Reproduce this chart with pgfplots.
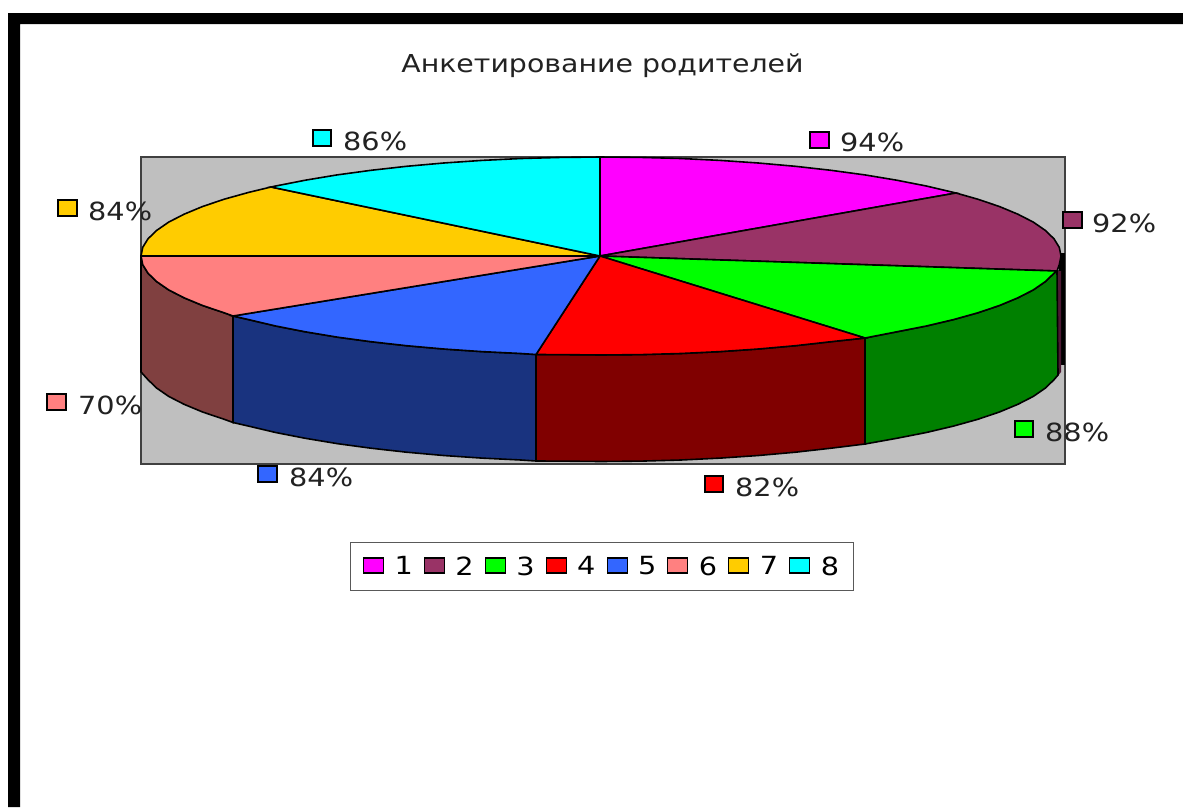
\documentclass[border=0pt]{standalone}
\usepackage{pgfplots}
\usepackage{fontspec}
\pgfplotsset{compat=1.18}
\setmainfont[FakeStretch=1.15]{DejaVu Sans}
\definecolor{c1}{HTML}{FF00FF}
\definecolor{c2}{HTML}{993366}
\definecolor{c3}{HTML}{00FF00}
\definecolor{c4}{HTML}{FF0000}
\definecolor{c5}{HTML}{3366FF}
\definecolor{c6}{HTML}{FF8080}
\definecolor{c7}{HTML}{FFCC00}
\definecolor{c8}{HTML}{00FFFF}
\definecolor{w2}{HTML}{4C1933}
\definecolor{w3}{HTML}{008000}
\definecolor{w4}{HTML}{800000}
\definecolor{w5}{HTML}{19337F}
\definecolor{w6}{HTML}{804040}
\definecolor{txt}{HTML}{222222}
\tikzset{lab/.style={anchor=west, inner sep=0pt, text=txt, font=\fontsize{25}{29}\selectfont}}
\begin{document}
\begin{tikzpicture}
\begin{axis}[
  scale only axis, width=1183pt, height=807pt,
  xmin=0, xmax=1183, ymin=0, ymax=807, y dir=reverse,
  hide axis, clip=true,
  every axis legend/.append style={font=\fontsize{25}{29}\selectfont},
  legend style={at={(axis cs:602,566.5)}, anchor=center, draw=black!65, line width=1pt,
    legend columns=8, inner xsep=12.5pt, inner ysep=12pt,
    /tikz/every even column/.append style={column sep=9pt},
    /tikz/every odd column/.append style={column sep=8.5pt}},
  legend cell align=left,
  legend image code/.code={\draw[#1,line width=1.1pt] (0pt,-6.5pt) rectangle (20pt,8.5pt);},
]
% page and frame
\addplot[fill=white, draw=none, forget plot] coordinates {(0,0)(1183,0)(1183,807)(0,807)} --cycle;
\addplot[fill=black, draw=none, forget plot] coordinates {(8,13)(1183,13)(1183,24)(20,24)(20,807)(8,807)} --cycle;
% plot wall
\addplot[fill=black!25, draw=black!75, line width=1.2pt, forget plot] coordinates {(141,157)(1065,157)(1065,464)(141,464)} --cycle;
% back strip at the right
\addplot[fill=black, draw=none, forget plot] coordinates {(1059,253)(1065,253)(1065,365)(1059,365)} --cycle;
\addplot[fill=w2, draw=none, forget plot] coordinates {(1058,271)(1061,271)(1061,372)(1058,376)} --cycle;
% side walls
\addplot[fill=w3, draw=black, line width=1.6pt, forget plot] coordinates {(1057,271)(1054,273.2)(1045.3,281.6)(1033.3,289.9)(1017.9,297.8)(999.4,305.5)(977.8,312.8)(953.4,319.6)(926.3,326)(896.7,331.8)(865,338)(865,444)(896.7,438.3)(926.3,432.5)(953.4,426.1)(977.8,419.3)(999.4,412)(1017.9,404.3)(1033.3,396.4)(1045.3,388.1)(1054,379.7)(1058,375)} --cycle;
\addplot[fill=w4, draw=black, line width=1.6pt, forget plot] coordinates {(865,338)(831,341.7)(795.4,345.7)(758.3,349)(720.1,351.6)(680.9,353.5)(641.1,354.6)(601,355)(560.9,354.6)(536,354.5)(536,461)(560.9,461.1)(601,461.5)(641.1,461.1)(680.9,460)(720.1,458.1)(758.3,455.5)(795.4,452.2)(831,448.2)(865,444)} --cycle;
\addplot[fill=w5, draw=black, line width=1.6pt, forget plot] coordinates {(536,354.5)(521.1,353.5)(481.9,351.6)(443.7,349)(406.6,345.7)(371,341.7)(337.1,337.1)(305.3,331.8)(275.7,326)(248.6,319.6)(233,316)(233,422.5)(248.6,426.1)(275.7,432.5)(305.3,438.3)(337.1,443.6)(371,448.2)(406.6,452.2)(443.7,455.5)(481.9,458.1)(521.1,460)(536,461)} --cycle;
\addplot[fill=w6, draw=black, line width=1.6pt, forget plot] coordinates {(233,316)(224.2,312.8)(202.6,305.5)(184.1,297.8)(168.7,289.9)(156.7,281.6)(148,273.2)(142.7,264.6)(141,256)(141,372)(148,379.7)(156.7,388.1)(168.7,396.4)(184.1,404.3)(202.6,412)(224.2,419.3)(233,422.5)} --cycle;
% top wedges
\addplot[fill=c1, draw=black, line width=1.6pt] coordinates {(600,256)(600,157)(641.1,157.4)(680.9,158.5)(720.1,160.4)(758.3,163)(795.4,166.3)(831,170.3)(864.9,174.9)(896.7,180.2)(926.3,186)(956,193)} --cycle;
\addplot[fill=c2, draw=black, line width=1.6pt] coordinates {(600,256)(956,193)(977.8,199.2)(999.4,206.5)(1017.9,214.2)(1033.3,222.1)(1045.3,230.4)(1054,238.8)(1059.3,247.4)(1061,256)(1059.3,264.6)(1057,271)} --cycle;
\addplot[fill=c3, draw=black, line width=1.6pt] coordinates {(600,256)(1057,271)(1054,273.2)(1045.3,281.6)(1033.3,289.9)(1017.9,297.8)(999.4,305.5)(977.8,312.8)(953.4,319.6)(926.3,326)(896.7,331.8)(865,338)} --cycle;
\addplot[fill=c4, draw=black, line width=1.6pt] coordinates {(600,256)(865,338)(831,341.7)(795.4,345.7)(758.3,349)(720.1,351.6)(680.9,353.5)(641.1,354.6)(601,355)(560.9,354.6)(536,354.5)} --cycle;
\addplot[fill=c5, draw=black, line width=1.6pt] coordinates {(600,256)(536,354.5)(521.1,353.5)(481.9,351.6)(443.7,349)(406.6,345.7)(371,341.7)(337.1,337.1)(305.3,331.8)(275.7,326)(248.6,319.6)(233,316)} --cycle;
\addplot[fill=c6, draw=black, line width=1.6pt] coordinates {(600,256)(233,316)(224.2,312.8)(202.6,305.5)(184.1,297.8)(168.7,289.9)(156.7,281.6)(148,273.2)(142.7,264.6)(141,256)} --cycle;
\addplot[fill=c7, draw=black, line width=1.6pt] coordinates {(600,256)(141,256)(142.7,247.4)(148,238.8)(156.7,230.4)(168.7,222.1)(184.1,214.2)(202.6,206.5)(224.2,199.2)(248.6,192.4)(271,187)} --cycle;
\addplot[fill=c8, draw=black, line width=1.6pt] coordinates {(600,256)(271,187)(275.7,186)(305.3,180.2)(337.1,174.9)(371,170.3)(406.6,166.3)(443.7,163)(481.9,160.4)(521.1,158.5)(560.9,157.4)(600,157)} --cycle;
% label keys
\addplot[fill=c1, draw=black, line width=1.1pt, forget plot] coordinates {(810,132)(829,132)(829,148)(810,148)} --cycle;
\addplot[fill=c2, draw=black, line width=1.1pt, forget plot] coordinates {(1063,212)(1082,212)(1082,228)(1063,228)} --cycle;
\addplot[fill=c3, draw=black, line width=1.1pt, forget plot] coordinates {(1015,421)(1033,421)(1033,437)(1015,437)} --cycle;
\addplot[fill=c4, draw=black, line width=1.1pt, forget plot] coordinates {(705,476)(723,476)(723,492)(705,492)} --cycle;
\addplot[fill=c5, draw=black, line width=1.1pt, forget plot] coordinates {(258,466)(277,466)(277,482)(258,482)} --cycle;
\addplot[fill=c6, draw=black, line width=1.1pt, forget plot] coordinates {(47,394)(66,394)(66,410)(47,410)} --cycle;
\addplot[fill=c7, draw=black, line width=1.1pt, forget plot] coordinates {(58,200)(77,200)(77,216)(58,216)} --cycle;
\addplot[fill=c8, draw=black, line width=1.1pt, forget plot] coordinates {(313,130)(331,130)(331,146)(313,146)} --cycle;
\node[lab] at (axis cs:840,142) {94\%};
\node[lab] at (axis cs:1092,223) {92\%};
\node[lab] at (axis cs:1045,432) {88\%};
\node[lab] at (axis cs:735,487) {82\%};
\node[lab] at (axis cs:289,477) {84\%};
\node[lab] at (axis cs:78,405) {70\%};
\node[lab] at (axis cs:88,211) {84\%};
\node[lab] at (axis cs:343,141) {86\%};
\node[anchor=center, inner sep=0pt, text=txt, font=\fontsize{24.7}{29}\selectfont] at (axis cs:602.5,66) {Анкетирование родителей};
\legend{1,2,3,4,5,6,7,8}
\end{axis}
\end{tikzpicture}
\end{document}
